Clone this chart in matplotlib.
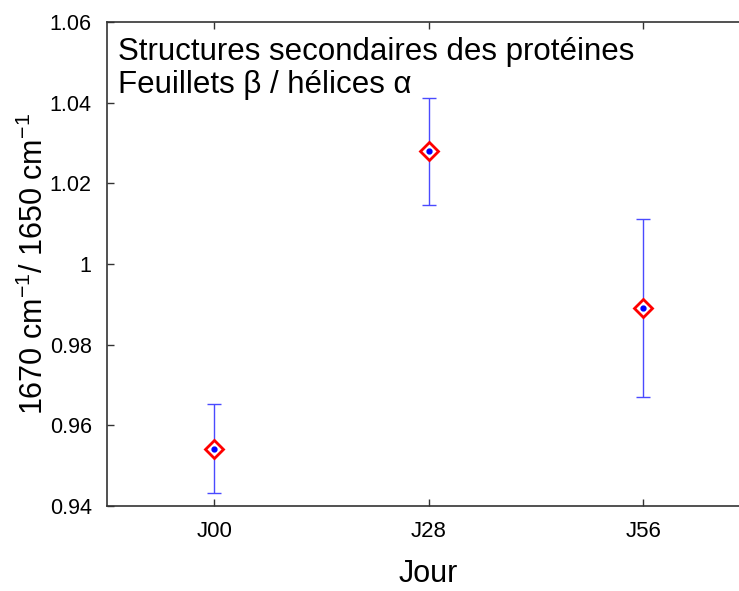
import numpy as np
import matplotlib
matplotlib.use('Agg')
import matplotlib.pyplot as plt

# Data:
days = ['J00', 'J28', 'J56']
ratio = [0.9542, 1.0279, 0.9891]
err = [0.0111, 0.0132, 0.0221]

plt.rcParams['font.family'] = ['Liberation Sans', 'DejaVu Sans']

fig = plt.figure(figsize=(7.39, 5.91), dpi=100)
# axes run off the right edge of the figure like in the reference
ax = fig.add_axes([107 / 739, (591 - 506) / 591, 643.5 / 739, 484 / 591])

x = np.arange(1, len(days) + 1)
ax.errorbar(x, ratio, yerr=err, fmt='none', ecolor='#4a4aff', elinewidth=1,
            capsize=5, capthick=1)
ax.plot(x, ratio, 'D', markersize=9, markerfacecolor='white',
        markeredgecolor='red', markeredgewidth=2)
ax.plot(x, ratio, 'o', markersize=3.5, color='blue')

ax.set_xlim(0.5, 3.5)
ax.set_ylim(0.94, 1.06)
ax.set_xticks(x)
ax.set_xticklabels(days)
ax.set_yticks([0.94, 0.96, 0.98, 1.0, 1.02, 1.04, 1.06])
ax.set_yticklabels(['0.94', '0.96', '0.98', '1', '1.02', '1.04', '1.06'])
ax.tick_params(direction='in', length=5, width=1, labelsize=15.5, pad=11,
               top=True, right=False, colors='#333333', labelcolor='black')
ax.tick_params(axis='x', labelsize=16, pad=11)
for s in ax.spines.values():
    s.set_color('#333333')
    s.set_linewidth(1.2)

ax.set_xlabel('Jour', fontsize=22, labelpad=12)
ax.set_ylabel(r'1670 cm$^{\mathregular{-1}}$/ 1650 cm$^{\mathregular{-1}}$', fontsize=22, labelpad=0)

ax.text(0.0165, 0.968, 'Structures secondaires des protéines\nFeuillets β / hélices α',
        transform=ax.transAxes, fontsize=22.5, va='top', ha='left', linespacing=1.12)

plt.savefig('out.png', dpi=100)
